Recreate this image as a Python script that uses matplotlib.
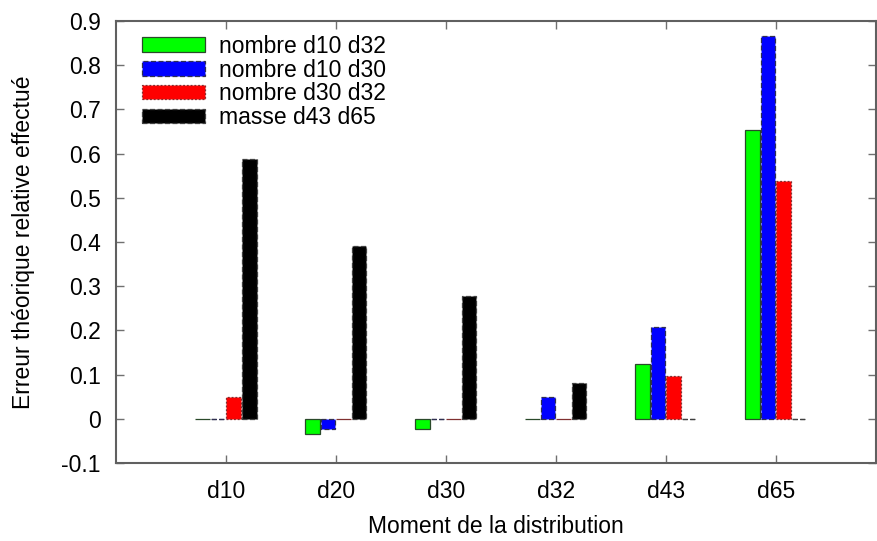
import matplotlib
matplotlib.use("Agg")
import matplotlib.pyplot as plt
import numpy as np

plt.rcParams["font.family"] = ["Liberation Sans", "DejaVu Sans"]

# ── données ──
categories = ["d10", "d20", "d30", "d32", "d43", "d65"]
series_labels = ["nombre d10 d32", "nombre d10 d30", "nombre d30 d32", "masse d43 d65"]
nombre_d10_d32 = [0.0, -0.035, -0.022, 0.0, 0.123, 0.653]
nombre_d10_d30 = [0.0, -0.022, 0.0, 0.050, 0.207, 0.866]
nombre_d30_d32 = [0.050, 0.0, 0.0, 0.0, 0.097, 0.537]
masse_d43_d65 = [0.587, 0.390, 0.277, 0.080, 0.0, 0.0]

series = [nombre_d10_d32, nombre_d10_d30, nombre_d30_d32, masse_d43_d65]
colors = ["#00ff00", "#0000ff", "#ff0000", "#000000"]
edge_styles = ["-", (0, (4, 2)), (0, (1.5, 1.5)), (0, (4, 2))]
edge_colors = ["#2a4a2a", "#303050", "#803030", "#404040"]

FS = 16.5

fig = plt.figure(figsize=(8.77, 5.41), dpi=100)
ax = fig.add_axes([116 / 877, 78 / 541, 760 / 877, 442 / 541])

x = np.arange(1, len(categories) + 1)
step = 0.141
width = 0.132
for i, vals in enumerate(series):
    ax.bar(
        x + (i - 1.5) * step,
        vals,
        width=width,
        color=colors[i],
        edgecolor=edge_colors[i],
        linestyle=edge_styles[i],
        linewidth=0.9,
        label=series_labels[i],
    )

ax.set_xlim(0, 6.91)
ax.set_ylim(-0.1, 0.9)
ax.set_xticks(x)
ax.set_xticklabels(categories)
ax.set_yticks(np.arange(-0.1, 0.91, 0.1))
ax.set_yticklabels(["-0.1", "0", "0.1", "0.2", "0.3", "0.4", "0.5", "0.6", "0.7", "0.8", "0.9"])

ax.tick_params(direction="in", length=6, width=1.0, color="#707070",
               top=True, right=True, labelsize=FS)
ax.tick_params(axis="y", pad=11)
ax.tick_params(axis="x", pad=12)
for sp in ax.spines.values():
    sp.set_color("#606060")
    sp.set_linewidth(1.5)

ax.set_xlabel("Moment de la distribution", fontsize=FS, labelpad=9)
ax.set_ylabel("Erreur théorique relative effectué", fontsize=FS, labelpad=19)

ax.legend(
    loc="upper left",
    bbox_to_anchor=(0.005, 1.018),
    frameon=False,
    fontsize=FS,
    handlelength=2.75,
    handleheight=0.6,
    handletextpad=0.65,
    labelspacing=0.03,
    borderpad=0.45,
)

fig.savefig("out.png", dpi=100)
